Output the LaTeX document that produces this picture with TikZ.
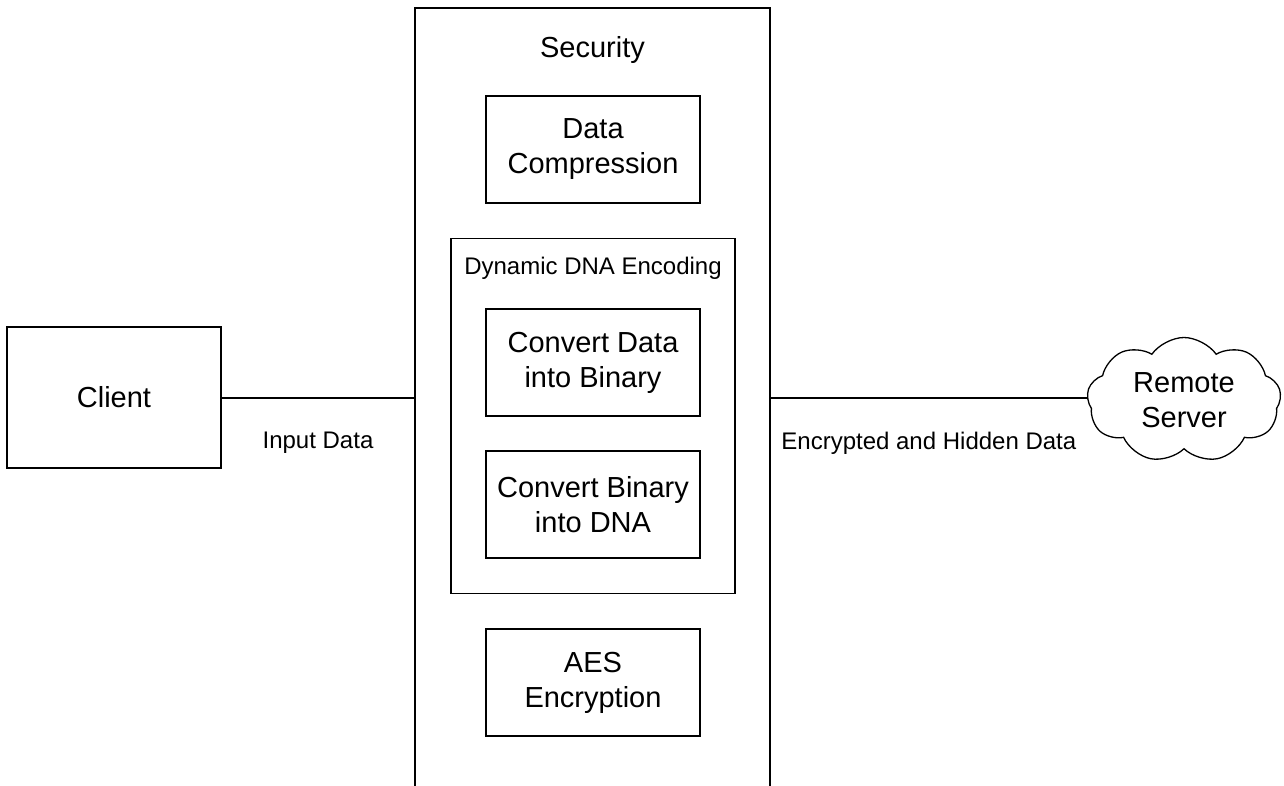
\documentclass[tikz,border=0pt]{standalone}
\usepackage{fontspec}
\setmainfont{Liberation Sans}
\usetikzlibrary{shapes.symbols}
\tikzstyle{box} = [draw, line width=1.3pt, minimum width=214pt, minimum height=107pt, inner sep=0pt, align=center, font=\fontsize{29}{35}\selectfont]
\tikzstyle{group} = [draw, line width=1.3pt, inner sep=0pt]
\tikzstyle{lbl} = [inner sep=0pt, font=\fontsize{29}{35}\selectfont]
\tikzstyle{smalllbl} = [inner sep=0pt, font=\fontsize{24}{29}\selectfont]
\tikzstyle{link} = [line width=1.3pt]

\begin{document}
\begin{tikzpicture}[x=1pt,y=-1pt]
    \useasboundingbox (0,0) rectangle (1284,785);
    \clip (0,0) rectangle (1284,785);
    \draw (592.5,454) node[group, minimum width=355pt, minimum height=892pt] (sec) {};
    \draw (592.5,50) node[lbl] (secname) {Security};
    \draw (593,416) node[group, minimum width=284pt, minimum height=355pt] (dna) {};
    \draw (593,268) node[smalllbl] (dnaname) {Dynamic DNA Encoding};
    \draw (593,149.5) node[box] (comp) {Data\\Compression};
    \draw (593,362.5) node[box] (bin) {Convert Data\\into Binary};
    \draw (593,504.5) node[box] (todna) {Convert Binary\\into DNA};
    \draw (593,682.5) node[box] (aes) {AES\\Encryption};
    \draw (114,397.5) node[box, minimum width=214pt, minimum height=141pt] (client) {Client};
    \draw (1184,400) node[draw, line width=1.3pt, cloud, cloud puffs=9, cloud puff arc=110, aspect=1.6, minimum width=194pt, minimum height=125pt, inner sep=0pt, align=center, font=\fontsize{29}{35}\selectfont] (server) {Remote\\Server};
    \draw[link] (client.east |- 0,398) -- (sec.west |- 0,398) node[midway, smalllbl, yshift=-45pt] {Input Data};
    \draw[link] (sec.east |- 0,398) -- (server.west |- 0,398) node[midway, smalllbl, yshift=-45pt] {Encrypted and Hidden Data};
\end{tikzpicture}
\end{document}
